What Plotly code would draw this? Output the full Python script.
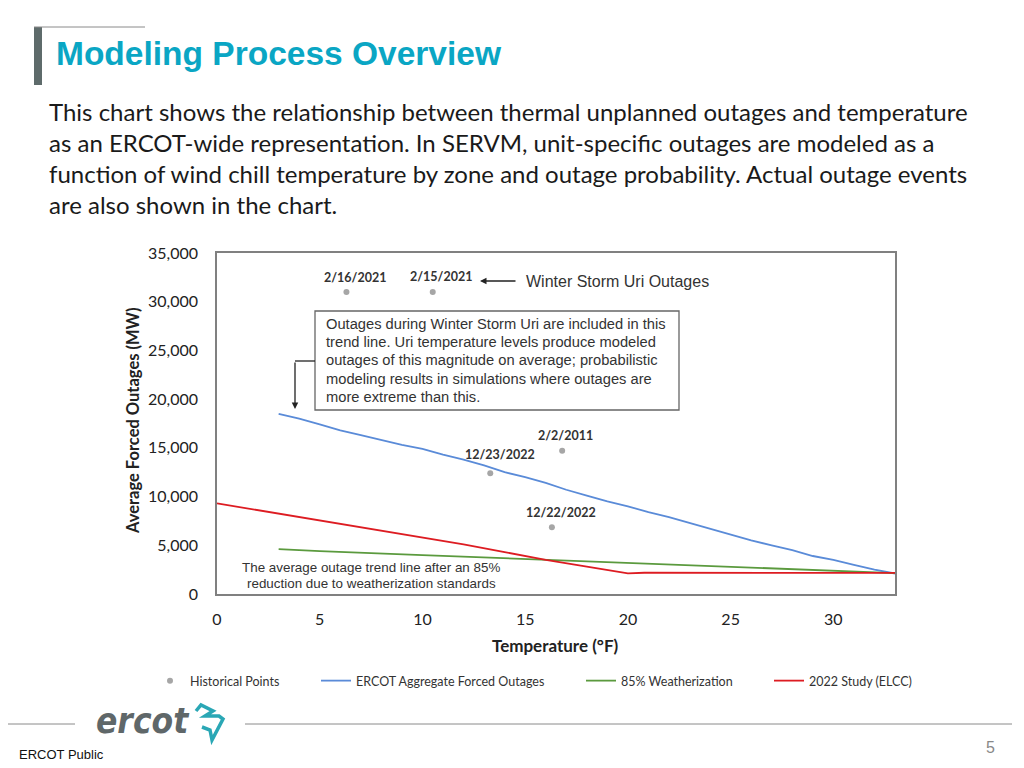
import plotly.graph_objects as go

# ---------------- data ----------------
hist_temp = [6.3, 10.5, 13.3, 16.8, 16.3]
hist_mw = [31000, 31000, 12400, 14700, 6850]
hist_labels = ["2/16/2021", "2/15/2021", "12/23/2022", "2/2/2011", "12/22/2022"]
hist_label_shift = [(9, 14), (8, 15), (10, 19), (3, 15), (9, 15)]

ercot_temp = [3, 4, 5, 6, 7, 8, 9, 10, 11, 12, 13, 14, 15, 16, 17, 18, 19, 20,
              21, 22, 23, 24, 25, 26, 27, 28, 29, 30, 31, 32, 33]
ercot_mw = [18500, 18000, 17400, 16800, 16300, 15800, 15300, 14900, 14300, 13800,
            13200, 12500, 12000, 11400, 10700, 10100, 9500, 9000, 8400, 7900,
            7300, 6700, 6100, 5500, 5000, 4500, 3900, 3500, 3000, 2500, 2100]

weather_temp = [3, 5, 10, 15, 20, 25, 30, 33]
weather_mw = [4600, 4400, 4000, 3600, 3200, 2800, 2400, 2150]

study_temp = [0, 2, 4, 6, 8, 10, 12, 14, 16, 18, 20, 20.8, 25, 30, 33]
study_mw = [9300, 8600, 7900, 7200, 6500, 5800, 5100, 4300, 3500, 2800, 2120,
            2180, 2180, 2170, 2160]

x_ticks = [0, 5, 10, 15, 20, 25, 30]
y_ticks = [0, 5000, 10000, 15000, 20000, 25000, 30000, 35000]

title_text = "Modeling Process Overview"
para_lines = [
    "This chart shows the relationship between thermal unplanned outages and temperature",
    "as an ERCOT-wide representation. In SERVM, unit-specific outages are modeled as a",
    "function of wind chill temperature by zone and outage probability. Actual outage events",
    "are also shown in the chart.",
]
callout_lines = [
    "Outages during Winter Storm Uri are included in this",
    "trend line. Uri temperature levels produce modeled",
    "outages of this magnitude on average; probabilistic",
    "modeling results in simulations where outages are",
    "more extreme than this.",
]

# ---------------- layout helpers ----------------
W, H = 1024, 768
L, R, T, B = 217, 895, 253, 594


def P(px, py):
    return (px - L) / (R - L), (B - py) / (B - T)


BLUE = "#5a8bd8"
GREEN = "#5b9a3e"
RED = "#dd1c22"
GRAY_PT = "#a6a6a6"
TXT = "#222222"
CAL = "Lato, Calibri, sans-serif"
ARIAL = "Liberation Sans, Arial, sans-serif"

fig = go.Figure()
fig.add_trace(go.Scatter(x=hist_temp, y=hist_mw, mode="markers", name="Historical Points",
                         marker=dict(color=GRAY_PT, size=6), legend="legend"))
fig.add_trace(go.Scatter(x=ercot_temp, y=ercot_mw, mode="lines", name="ERCOT Aggregate Forced Outages",
                         line=dict(color=BLUE, width=1.8), legend="legend2"))
fig.add_trace(go.Scatter(x=weather_temp, y=weather_mw, mode="lines", name="85% Weatherization",
                         line=dict(color=GREEN, width=1.8), legend="legend3"))
fig.add_trace(go.Scatter(x=study_temp, y=study_mw, mode="lines", name="2022 Study (ELCC)",
                         line=dict(color=RED, width=1.8), legend="legend4"))

ann = []
# historical point labels
for xv, yv, lab, (dx, dy) in zip(hist_temp, hist_mw, hist_labels, hist_label_shift):
    ann.append(dict(x=xv, y=yv, xref="x", yref="y", text="<b>%s</b>" % lab, showarrow=False,
                    xshift=dx, yshift=dy, font=dict(family=CAL, size=12.5, color="#333333")))


def text_at(px, py, text, size, family=ARIAL, color=TXT, xanchor="left", yanchor="middle", align="left",
            angle=0):
    x, y = P(px, py)
    ann.append(dict(x=x, y=y, xref="paper", yref="paper", text=text, showarrow=False,
                    xanchor=xanchor, yanchor=yanchor, align=align, textangle=angle,
                    font=dict(family=family, size=size, color=color)))


# title and paragraph
text_at(54, 53, "<b>%s</b>" % title_text, 33.5, color="#0AA6C4")
for i, line in enumerate(para_lines):
    text_at(47, 112 + i * 30.8, line, 24, family=CAL, color="#1a1a1a")

# callout text
for i, line in enumerate(callout_lines):
    text_at(324, 324 + i * 18.2, line, 14.7, color="#333333")

text_at(524, 281, "Winter Storm Uri Outages", 16, color="#333333")
text_at(371, 567, "The average outage trend line after an 85%", 13.4, color="#333333", xanchor="center")
text_at(371, 583, "reduction due to weatherization standards", 13.4, color="#333333", xanchor="center")

# axis titles
text_at(555, 645, "<b>Temperature (°F)</b>", 17, family=CAL, xanchor="center")
text_at(133, 421, "<b>Average Forced Outages (MW)</b>", 16.5, family=CAL, xanchor="center", angle=-90)

# arrows
ax_, ay_ = P(480, 281)
ann.append(dict(x=ax_, y=ay_, xref="paper", yref="paper", text="", showarrow=True, ax=37, ay=0,
                arrowhead=2, arrowsize=1, arrowwidth=1.3, arrowcolor="#222222"))
ax_, ay_ = P(295, 409)
ann.append(dict(x=ax_, y=ay_, xref="paper", yref="paper", text="", showarrow=True, ax=0, ay=-48,
                arrowhead=2, arrowsize=1, arrowwidth=1.3, arrowcolor="#222222"))

# footer
text_at(94, 721, "<b><i>ercot</i></b>", 35, family="DejaVu Sans Condensed, Liberation Sans Narrow, sans-serif",
        color="#5f6769")
text_at(17, 754, "ERCOT Public", 13, color="#111111")
text_at(990, 747, "5", 16, color="#888888", xanchor="center")

shapes = []


def rect(x0, y0, x1, y1, line_color, fill=None, lw=1):
    a, b = P(x0, y0)
    c, d = P(x1, y1)
    shapes.append(dict(type="rect", xref="paper", yref="paper", x0=a, y0=b, x1=c, y1=d,
                       line=dict(color=line_color, width=lw), fillcolor=fill, layer="above"))


def seg(x0, y0, x1, y1, color, lw=1):
    a, b = P(x0, y0)
    c, d = P(x1, y1)
    shapes.append(dict(type="line", xref="paper", yref="paper", x0=a, y0=b, x1=c, y1=d,
                       line=dict(color=color, width=lw)))


rect(315, 311, 679, 410, "#666666", fill="rgba(0,0,0,0)", lw=1.3)
seg(315, 361, 295, 361, "#222222", 1.3)
# title decorations
rect(34, 27, 42, 85, "#5e6b6b", fill="#5e6b6b", lw=0)
seg(34, 27, 145, 27, "#8a8a8a", 1)
# footer lines
seg(8, 724, 75, 724, "#8a8a8a", 1)
seg(245, 724, 1012, 724, "#8a8a8a", 1)

# logo icon (approximate path)
pts = [(196, 711), (201, 705), (213, 711), (205, 716), (219, 716), (223, 719), (212, 740), (210, 730), (202, 727)]
path = "M " + " L ".join("%f,%f" % P(px, py) for px, py in pts)
shapes.append(dict(type="path", xref="paper", yref="paper", path=path,
                   line=dict(color="#2aa7b5", width=3.5)))

leg_common = dict(orientation="h", yanchor="middle", font=dict(family=CAL, size=12.5, color="#333333"),
                  bgcolor="rgba(0,0,0,0)", itemwidth=30, tracegroupgap=0)
ly = P(0, 681)[1]

fig.update_layout(
    width=W, height=H,
    margin=dict(l=L, r=W - R, t=T, b=H - B, pad=0),
    paper_bgcolor="white", plot_bgcolor="white",
    xaxis=dict(range=[0, 33], tickvals=x_ticks, showgrid=False, zeroline=False, showline=True, mirror=True,
               linecolor="#808080", linewidth=1.5, ticks="", ticklabelstandoff=10,
               tickfont=dict(family=CAL, size=16, color=TXT)),
    yaxis=dict(range=[0, 35000], tickvals=y_ticks, tickformat=",", showgrid=False, zeroline=False,
               showline=True, mirror=True, linecolor="#808080", linewidth=1.5, ticks="", ticklabelstandoff=14,
               tickfont=dict(family=CAL, size=16, color=TXT)),
    legend=dict(x=P(150, 0)[0], y=ly, **leg_common),
    legend2=dict(x=P(316, 0)[0], y=ly, **leg_common),
    legend3=dict(x=P(581, 0)[0], y=ly, **leg_common),
    legend4=dict(x=P(769, 0)[0], y=ly, **leg_common),
    annotations=ann,
    shapes=shapes,
    showlegend=True,
)

fig.write_html("out.html", config={"displayModeBar": False},
               post_script="document.body.style.margin='0';document.body.style.overflow='hidden';")
